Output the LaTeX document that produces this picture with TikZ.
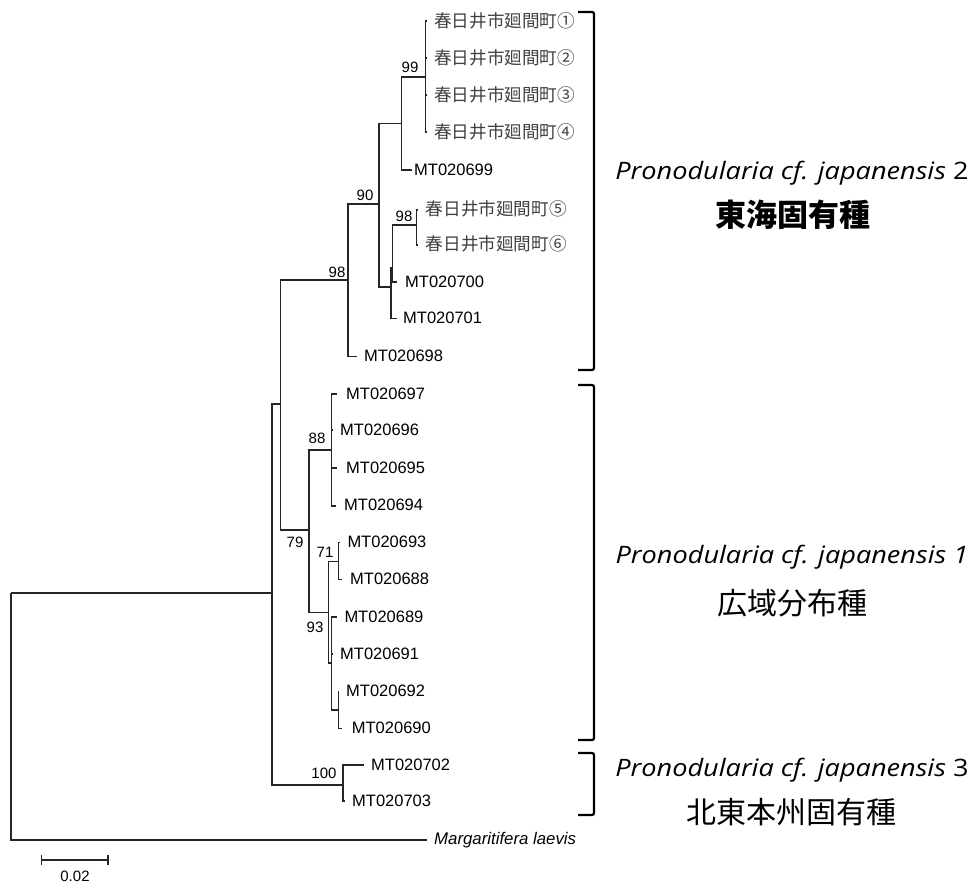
\documentclass[tikz,border=0pt]{standalone}
\usepackage{fontspec}
\setmainfont{Liberation Sans}
\newfontfamily\cjk{Noto Sans CJK JP}
\newfontfamily\osans[FakeStretch=1.13]{Open Sans}
\begin{document}
\begin{tikzpicture}[x=1pt,y=-1pt,
  br/.style={line width=1.2pt, black!85},
  brk/.style={line width=2.2pt, rounded corners=2pt},
  leaf/.style={anchor=west, inner sep=0pt, font=\fontsize{16.5}{16.5}\selectfont},
  jleaf/.style={anchor=west, inner sep=0pt, text=black!75, font=\cjk\fontsize{17.6}{17.6}\selectfont},
  sup/.style={inner sep=0pt, font=\fontsize{15}{15}\selectfont},
  sp/.style={inner sep=0pt, font=\osans\itshape\fontsize{24}{24}\selectfont},
  jp/.style={inner sep=0pt, font=\cjk\fontsize{30}{30}\selectfont}]
\useasboundingbox (0,0) rectangle (972,886);
% internal nodes
\coordinate (root) at (11,593);
\coordinate (ing) at (272,593);
\coordinate (A) at (280.7,404);
\coordinate (P2) at (348,280);
\coordinate (N90) at (379,204);
\coordinate (N99p) at (401.7,123.3);
\coordinate (N99) at (425.7,77);
\coordinate (NB) at (391,287);
\coordinate (NC) at (392.6,268);
\coordinate (N98b) at (416.7,225);
\coordinate (P1) at (309,530);
\coordinate (N88) at (331.7,450);
\coordinate (N93) at (328.3,612.7);
\coordinate (N71) at (338.3,561.7);
\coordinate (ND) at (331.7,663);
\coordinate (N9290) at (338.3,710);
\coordinate (C3) at (343,785);
% tips
\coordinate (t1) at (427,21);
\coordinate (t2) at (426.5,58);
\coordinate (t3) at (426.5,95);
\coordinate (t4) at (427,132);
\coordinate (t699) at (411.7,170);
\coordinate (t5) at (418,210);
\coordinate (t6) at (417.5,245);
\coordinate (t700) at (397,282);
\coordinate (t701) at (397,318.3);
\coordinate (t698) at (356.7,356.7);
\coordinate (t697) at (337.3,394);
\coordinate (t696) at (332.5,430);
\coordinate (t695) at (337,468);
\coordinate (t694) at (336,506);
\coordinate (t693) at (340,542.7);
\coordinate (t688) at (341.7,579.3);
\coordinate (t689) at (336.7,617);
\coordinate (t691) at (332.5,654);
\coordinate (t692) at (339.3,691.7);
\coordinate (t690) at (341.7,728.3);
\coordinate (t702) at (364,765);
\coordinate (t703) at (344.5,801);
\coordinate (tout) at (426.5,840);
% leaf labels
\node[jleaf] (L1) at (434,21) {春日井市廻間町①};
\node[jleaf] (L2) at (434,58) {春日井市廻間町②};
\node[jleaf] (L3) at (434,95) {春日井市廻間町③};
\node[jleaf] (L4) at (434,132) {春日井市廻間町④};
\node[leaf] (L699) at (414,170) {MT020699};
\node[jleaf] (L5) at (425.7,209) {春日井市廻間町⑤};
\node[jleaf] (L6) at (425.7,244) {春日井市廻間町⑥};
\node[leaf] (L700) at (405,282) {MT020700};
\node[leaf] (L701) at (403,318.3) {MT020701};
\node[leaf] (L698) at (364,356) {MT020698};
\node[leaf] (L697) at (346,394) {MT020697};
\node[leaf] (L696) at (340,430) {MT020696};
\node[leaf] (L695) at (346,468) {MT020695};
\node[leaf] (L694) at (344,505) {MT020694};
\node[leaf] (L693) at (347.3,542) {MT020693};
\node[leaf] (L688) at (350,579) {MT020688};
\node[leaf] (L689) at (344.3,617) {MT020689};
\node[leaf] (L691) at (340,654) {MT020691};
\node[leaf] (L692) at (346,691) {MT020692};
\node[leaf] (L690) at (351.7,728.3) {MT020690};
\node[leaf] (L702) at (371,765) {MT020702};
\node[leaf] (L703) at (352,801) {MT020703};
\node[leaf, font=\itshape\fontsize{16.8}{16.8}\selectfont] (Lout) at (434,840) {Margaritifera laevis};
% branches
\draw[br] (root) |- (ing);
\draw[br] (root) |- (tout);
\draw[br] (ing) |- (A);
\draw[br] (ing) |- (C3);
\draw[br] (A) |- (P2);
\draw[br] (A) |- (P1);
\draw[br] (P2) |- (N90);
\draw[br] (P2) |- (t698);
\draw[br] (N90) |- (N99p);
\draw[br] (N90) |- (NB);
\draw[br] (N99p) |- (N99);
\draw[br] (N99p) |- (t699);
\draw[br] (N99) |- (t1);
\draw[br] (N99) |- (t2);
\draw[br] (N99) |- (t3);
\draw[br] (N99) |- (t4);
\draw[br] (NB) |- (NC);
\draw[br] (NB) |- (t701);
\draw[br] (NC) |- (N98b);
\draw[br] (NC) |- (t700);
\draw[br] (N98b) |- (t5);
\draw[br] (N98b) |- (t6);
\draw[br] (P1) |- (N88);
\draw[br] (P1) |- (N93);
\draw[br] (N88) |- (t697);
\draw[br] (N88) |- (t696);
\draw[br] (N88) |- (t695);
\draw[br] (N88) |- (t694);
\draw[br] (N93) |- (N71);
\draw[br] (N93) |- (ND);
\draw[br] (N71) |- (t693);
\draw[br] (N71) |- (t688);
\draw[br] (ND) |- (t689);
\draw[br] (ND) |- (t691);
\draw[br] (ND) |- (N9290);
\draw[br] (N9290) |- (t692);
\draw[br] (N9290) |- (t690);
\draw[br] (C3) |- (t702);
\draw[br] (C3) |- (t703);
% support values
\node[sup] (s99) at (410,67) {99};
\node[sup] (s90) at (365,195) {90};
\node[sup] (s98a) at (337,272) {98};
\node[sup] (s98b) at (404,216) {98};
\node[sup] (s88) at (317,438) {88};
\node[sup] (s79) at (295,542) {79};
\node[sup] (s71) at (325,552) {71};
\node[sup] (s93) at (315,627) {93};
\node[sup] (s100) at (324,773) {100};
% scale bar
\coordinate (sb1) at (41.5,860);
\coordinate (sb2) at (108,860);
\draw[br] (sb1) -- (sb2);
\draw[br] ([yshift=-5pt]sb1) -- ([yshift=5pt]sb1);
\draw[br] ([yshift=-5pt]sb2) -- ([yshift=5pt]sb2);
\node[sup] (sbl) at (75,876.5) {0.02};
% brackets
\draw[brk] (578,12) -- (594,12) -- (594,370) -- (578,370);
\draw[brk] (578,385) -- (594,385) -- (594,740) -- (578,740);
\draw[brk] (578,753) -- (594,753) -- (594,815) -- (578,815);
% clade labels
\node[sp] (c2) at (792,173) {Pronodularia cf. japanensis \upshape 2};
\node[jp, font=\cjk\bfseries\fontsize{31}{31}\selectfont] (c2j) at (793,215) {東海固有種};
\node[sp] (c1) at (792,557) {Pronodularia cf. japanensis 1};
\node[jp] (c1j) at (792,603) {広域分布種};
\node[sp] (c3) at (792,770) {Pronodularia cf. japanensis \upshape 3};
\node[jp] (c3j) at (791,812) {北東本州固有種};
\end{tikzpicture}
\end{document}
